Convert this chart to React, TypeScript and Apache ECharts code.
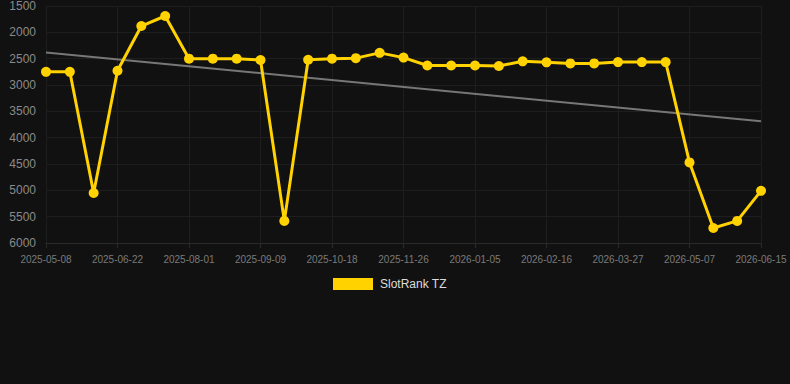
import React, { useEffect, useRef } from "react";
import * as echarts from "echarts";

const categories: string[] = [
  "2025-05-08", "2025-05-23", "2025-06-07",
  "2025-06-22", "2025-07-05", "2025-07-18",
  "2025-08-01", "2025-08-14", "2025-08-27",
  "2025-09-09", "2025-09-22", "2025-10-05",
  "2025-10-18", "2025-10-31", "2025-11-13",
  "2025-11-26", "2025-12-09", "2025-12-22",
  "2026-01-05", "2026-01-19", "2026-02-02",
  "2026-02-16", "2026-03-01", "2026-03-14",
  "2026-03-27", "2026-04-10", "2026-04-23",
  "2026-05-07", "2026-05-20", "2026-06-02",
  "2026-06-15",
];

const rankValues: number[] = [
  2750, 2750, 5050, 2730, 1880, 1690, 2500, 2500, 2500, 2525,
  5580, 2520, 2500, 2490, 2390, 2480, 2630, 2630, 2630, 2640,
  2550, 2570, 2590, 2590, 2565, 2565, 2565, 4470, 5715, 5580,
  5010,
];

const yTicks = { min: 1500, max: 6000, interval: 500 };
const seriesName = "SlotRank TZ";

function trendLine(values: number[]): (number | null)[] {
  const n = values.length;
  const mx = (n - 1) / 2;
  const my = values.reduce((a, b) => a + b, 0) / n;
  let num = 0;
  let den = 0;
  values.forEach((v, i) => {
    num += (i - mx) * (v - my);
    den += (i - mx) * (i - mx);
  });
  const slope = num / den;
  return values.map((_, i) =>
    i === 0 || i === n - 1 ? my + slope * (i - mx) : null
  );
}

const FONT = "Arial, 'Liberation Sans', sans-serif";

export default function App() {
  const ref = useRef<HTMLDivElement>(null);
  useEffect(() => {
    document.body.style.margin = "0";
    if (!ref.current) return;
    const chart = echarts.init(ref.current, undefined, { renderer: "svg" });
    chart.setOption({
      animation: false,
      backgroundColor: "#111111",
      grid: { left: 46, right: 29, top: 6, bottom: 141 },
      legend: {
        data: [{ name: seriesName, icon: "rect" }],
        left: 328,
        top: 273,
        itemWidth: 40,
        itemHeight: 12,
        itemGap: 10,
        textStyle: { color: "#dddddd", fontSize: 12, fontFamily: FONT, padding: [0, 0, 0, 2] },
      },
      xAxis: {
        type: "category",
        data: categories,
        boundaryGap: false,
        axisLine: { show: true, lineStyle: { color: "#2a2a2a" } },
        axisTick: { show: true, interval: 2, lineStyle: { color: "#2a2a2a" } },
        axisLabel: {
          interval: 2,
          color: "#7a7a7a",
          fontSize: 10,
          margin: 11,
          fontFamily: FONT,
        },
        splitLine: { show: true, interval: 2, lineStyle: { color: "#1e1e1e" } },
      },
      yAxis: {
        type: "value",
        inverse: true,
        min: yTicks.min,
        max: yTicks.max,
        interval: yTicks.interval,
        axisLine: { show: false },
        axisTick: { show: false },
        axisLabel: {
          color: "#8a8a8a",
          fontSize: 12,
          margin: 10,
          fontFamily: FONT,
          formatter: (v: number) => String(v),
        },
        splitLine: { show: true, lineStyle: { color: "#1e1e1e" } },
      },
      series: [
        {
          name: seriesName,
          type: "line",
          data: rankValues,
          symbol: "circle",
          symbolSize: 10,
          itemStyle: { color: "#ffd200" },
          lineStyle: { color: "#ffd200", width: 3 },
          z: 3,
        },
        {
          name: "trend",
          type: "line",
          data: trendLine(rankValues),
          connectNulls: true,
          symbol: "none",
          lineStyle: { color: "#777777", width: 2 },
          z: 2,
        },
      ],
    });
    return () => chart.dispose();
  }, []);
  return <div ref={ref} style={{ width: 790, height: 384 }} />;
}
